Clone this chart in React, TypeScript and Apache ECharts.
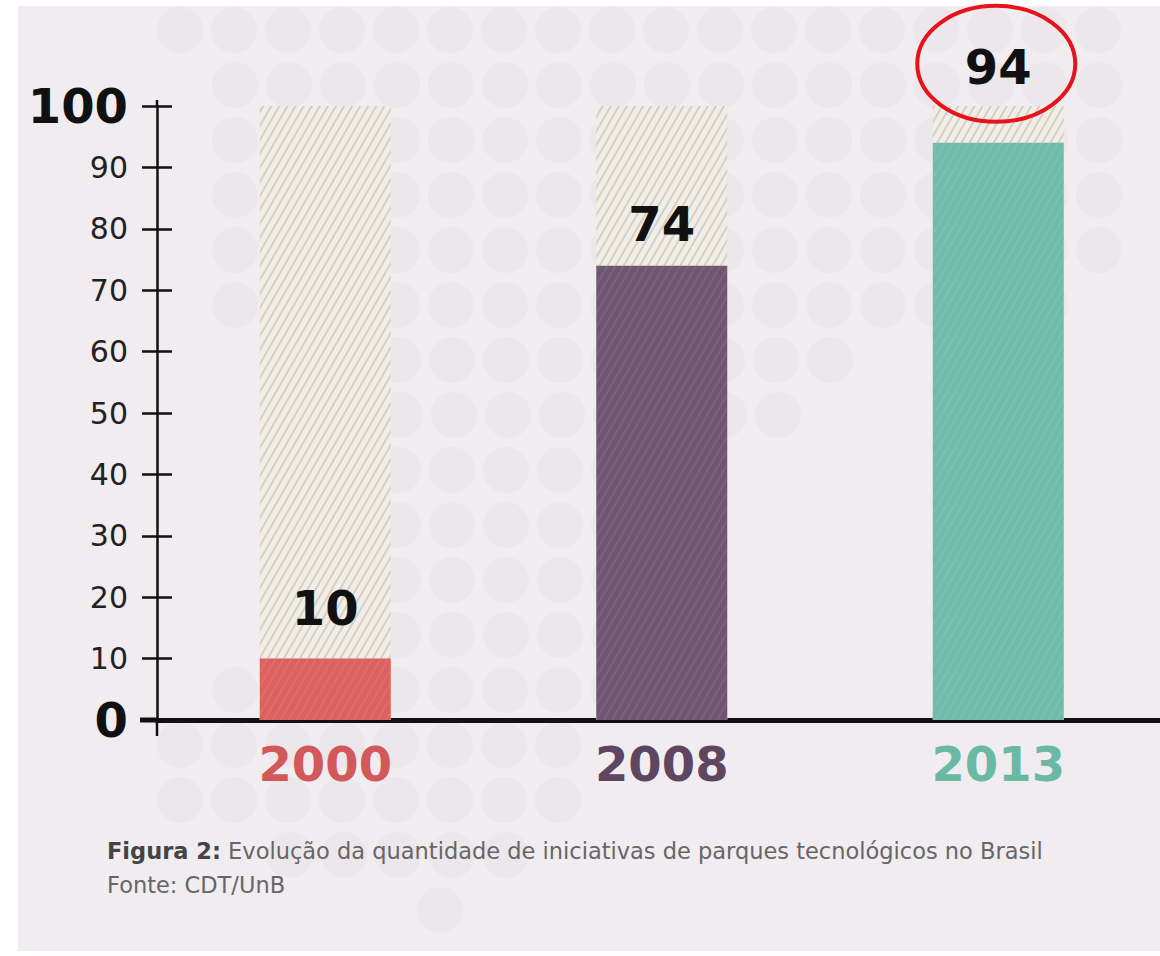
import React, { useEffect, useRef } from "react";
import * as echarts from "echarts";

// ---- data ----
const categories = ["2000", "2008", "2013"];
const values = [10, 74, 94];
const yMin = 0;
const yMax = 100;
const yInterval = 10;
const highlightIndex = 2;
const captionBold = "Figura 2:";
const captionText = " Evolução da quantidade de iniciativas de parques tecnológicos no Brasil";
const sourceText = "Fonte: CDT/UnB";

// ---- styles ----
const barColors = ["#dd615e", "#705571", "#70bcaa"];
const labelColors = ["#d3585a", "#5e4560", "#6ab9a5"];
const labelDistances = [27, 18, 52];
const FONT = "DejaVu Sans";

// decorative dot rows: [y, xStart, xEnd]
const dotRows = [
  [30, 180, 1150],
  [85, 235, 1150],
  [140, 235, 1150],
  [195, 235, 1130],
  [250, 235, 1130],
  [305, 235, 1070],
  [360, 290, 880],
  [415, 400, 820],
  [470, 290, 720],
  [525, 290, 670],
  [580, 290, 620],
  [635, 290, 620],
  [690, 235, 620],
  [745, 180, 560],
  [800, 180, 560],
  [855, 290, 510],
  [910, 440, 440],
];

export default function App() {
  const ref = useRef<HTMLDivElement>(null);

  useEffect(() => {
    document.body.style.margin = "0";
    document.body.style.overflow = "hidden";
    if (!ref.current) return;
    const chart = echarts.init(ref.current, undefined, { renderer: "svg" });

    const dots: any[] = [];
    dotRows.forEach(([y, xs, xe]) => {
      for (let x = xs; x <= xe + 0.1; x += 54) {
        dots.push({
          type: "circle",
          z: -9,
          silent: true,
          shape: { cx: x, cy: y, r: 23 },
          style: { fill: "#ebe7eb" },
        });
      }
    });

    const graphicBase: any[] = [
      {
        type: "rect",
        z: -10,
        silent: true,
        shape: { x: 18, y: 6, width: 1162, height: 945 },
        style: { fill: "#f0ecf0" },
      },
      ...dots,
      // y-axis line extensions
      {
        type: "line",
        z: 5,
        shape: { x1: 157, y1: 100, x2: 157, y2: 107 },
        style: { stroke: "#111", lineWidth: 2.5 },
      },
      {
        type: "line",
        z: 5,
        shape: { x1: 157, y1: 719, x2: 157, y2: 736 },
        style: { stroke: "#111", lineWidth: 2.5 },
      },
      // thick baseline start left of axis
      {
        type: "rect",
        z: 5,
        shape: { x: 140, y: 717.5, width: 18, height: 5 },
        style: { fill: "#111" },
      },
      {
        type: "text",
        z: 20,
        left: 107,
        top: 839,
        style: {
          text: `{b|${captionBold}}{n|${captionText}}`,
          rich: {
            b: { fontFamily: FONT, fontWeight: "bold", fontSize: 22.5, fill: "#444" },
            n: { fontFamily: FONT, fontSize: 22.5, fill: "#666" },
          },
        },
      },
      {
        type: "text",
        z: 20,
        left: 107,
        top: 873,
        style: { text: sourceText, fontFamily: FONT, fontSize: 22.5, fill: "#666" },
      },
    ];

    const option: any = {
      animation: false,
      backgroundColor: "#ffffff",
      grid: { left: 157, top: 106, width: 1009.5, height: 614, containLabel: false },
      xAxis: {
        type: "category",
        data: categories.map((c, i) => ({
          value: c,
          textStyle: { color: labelColors[i] },
        })),
        axisLine: { show: true, lineStyle: { color: "#111", width: 5 } },
        axisTick: { show: false },
        axisLabel: {
          margin: 20,
          fontFamily: FONT,
          fontWeight: "bold",
          fontSize: 48,
        },
        splitLine: { show: false },
        z: 1,
      },
      yAxis: [
        {
          type: "value",
          min: yMin,
          max: yMax,
          interval: yInterval,
          position: "left",
          axisLine: { show: true, lineStyle: { color: "#111", width: 2.5 } },
          axisTick: { show: true, length: 15, lineStyle: { color: "#111", width: 2.5 } },
          splitLine: { show: false },
          axisLabel: {
            margin: 29,
            formatter: (v: number) =>
              v === yMin || v === yMax ? `{b|${v}}` : `{n|${v}}`,
            rich: {
              b: { fontFamily: FONT, fontWeight: "bold", fontSize: 48, color: "#111" },
              n: { fontFamily: FONT, fontSize: 30, color: "#222" },
            },
          },
          z: 6,
        },
        {
          type: "value",
          min: yMin,
          max: yMax,
          interval: yInterval,
          position: "left",
          axisLine: { show: false },
          axisTick: { show: true, inside: true, length: 15, lineStyle: { color: "#111", width: 2.5 } },
          axisLabel: { show: false },
          splitLine: { show: false },
          z: 6,
        },
      ],
      series: [
        {
          type: "bar",
          silent: true,
          barWidth: 131,
          barGap: "-100%",
          data: categories.map(() => yMax),
          itemStyle: {
            color: "#f1eee9",
            decal: {
              symbol: "rect",
              symbolSize: 1,
              color: "rgba(200,192,176,0.65)",
              dashArrayX: [1, 0],
              dashArrayY: [2, 5],
              rotation: -Math.PI / 3,
            },
          },
          z: 2,
        },
        {
          type: "bar",
          barWidth: 131,
          barGap: "-100%",
          data: values.map((v, i) => ({
            value: v,
            itemStyle: { color: barColors[i] },
            label: { distance: labelDistances[i] },
          })),
          itemStyle: {
            decal: {
              symbol: "rect",
              symbolSize: 1,
              color: "rgba(255,255,255,0.07)",
              dashArrayX: [1, 0],
              dashArrayY: [2, 5],
              rotation: -Math.PI / 3,
            },
          },
          label: {
            show: true,
            position: "top",
            fontFamily: FONT,
            fontWeight: "bold",
            fontSize: 48,
            color: "#111",
          },
          z: 3,
        },
      ],
      graphic: graphicBase,
    };

    chart.setOption(option);

    const p = chart.convertToPixel({ xAxisIndex: 0, yAxisIndex: 0 }, [
      categories[highlightIndex],
      values[highlightIndex],
    ]) as number[];
    chart.setOption({
      graphic: [
        ...graphicBase,
        {
          type: "ellipse",
          z: 30,
          silent: true,
          shape: { cx: p[0] - 2, cy: p[1] - 79, rx: 79, ry: 58 },
          style: { fill: "none", stroke: "#e8121a", lineWidth: 4 },
        },
      ],
    });

    return () => chart.dispose();
  }, []);

  return <div ref={ref} style={{ width: 1180, height: 956 }} />;
}
